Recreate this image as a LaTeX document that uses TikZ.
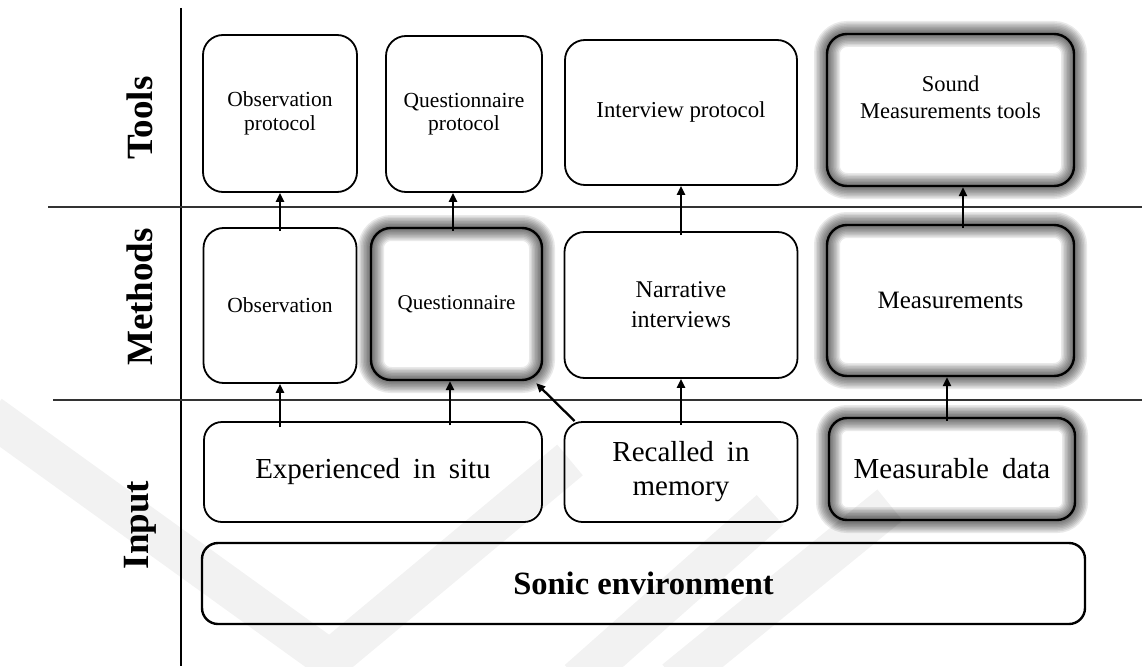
\documentclass[tikz,border=0pt]{standalone}
\usepackage{fontspec}
\setmainfont{Liberation Serif}
\usetikzlibrary{arrows.meta,calc}
\begin{document}
\begin{tikzpicture}[x=1pt,y=-1pt,
  box/.style={draw=black, line width=1.8pt, rounded corners=20pt, inner sep=0pt, align=center},
  glowbox/.style={box, line width=2.4pt,
    preaction={draw=black, draw opacity=0.085, line width=26pt},
    preaction={draw=black, draw opacity=0.085, line width=23pt},
    preaction={draw=black, draw opacity=0.085, line width=20pt},
    preaction={draw=black, draw opacity=0.085, line width=17pt},
    preaction={draw=black, draw opacity=0.085, line width=14pt},
    preaction={draw=black, draw opacity=0.085, line width=11pt},
    preaction={draw=black, draw opacity=0.085, line width=8pt},
    preaction={draw=black, draw opacity=0.085, line width=5pt}},
  arr/.style={line width=2.3pt, -{Triangle[length=9pt,width=8pt]}},
  sep/.style={line width=1.3pt, draw=black!80},
  rowlabel/.style={rotate=90, font=\fontsize{37}{40}\selectfont\bfseries},
  wm/.style={draw=black!5, line width=40pt},
  small/.style={font=\fontsize{21.5}{23.5}\selectfont},
  big/.style={font=\fontsize{29}{34}\selectfont}
]
\useasboundingbox (0,0) rectangle (1142,666);

% faint background chevrons
\begin{scope}
  \clip (0,0) rectangle (1142,666);
  \draw[wm] (-10,415) -- (330,660) -- (570,460);
  \draw[wm] (578,680) -- (770,510);
  \draw[wm] (675,680) -- (890,505);
\end{scope}

% frame lines
\draw[line width=1.5pt] (181,8) -- (181,666);
\draw[sep] (48,207) -- (1142,207);
\draw[sep] (53,400) -- (1142,400);

% row labels
\node[rowlabel] (ltools) at (140,118) {Tools};
\node[rowlabel] (lmethods) at (140,297) {Methods};
\node[rowlabel] (linput) at (140,525) {Input};

% tools
\node[box, small, minimum width=154pt, minimum height=157pt] (op) at (280,113.5) {Observation\\protocol};
\node[box, small, minimum width=156pt, minimum height=156pt] (qp) at (464,114) {Questionnaire\\protocol};
\node[box, font=\fontsize{22.8}{26}\selectfont, minimum width=232pt, minimum height=145pt] (ip) at (681,112.5) {Interview protocol};
\node[glowbox, minimum width=247pt, minimum height=152pt] (smt) at (950.5,110) {};
\node[align=center, font=\fontsize{22.5}{27}\selectfont] (smtt) at ($(smt.center)+(0,-13)$) {Sound\\Measurements tools};

% methods
\node[box, small, minimum width=153pt, minimum height=155pt] (obs) at (280,305.5) {Observation};
\node[glowbox, font=\fontsize{21}{23}\selectfont, minimum width=171pt, minimum height=152pt] (q) at (456.5,304) {Questionnaire};
\node[box, font=\fontsize{24}{30}\selectfont, minimum width=233pt, minimum height=146pt] (ni) at (681,305) {Narrative\\interviews};
\node[glowbox, font=\fontsize{25}{28}\selectfont, minimum width=247pt, minimum height=151pt] (meas) at (950.5,300.5) {Measurements};

% input
\node[box, big, rounded corners=18pt, minimum width=338pt, minimum height=100pt] (eis) at (373,472) {Experienced\hspace{0.2em} in\hspace{0.2em} situ};
\node[box, big, rounded corners=18pt, minimum width=233pt, minimum height=100pt] (rim) at (681,472) {Recalled\hspace{0.2em} in\\memory};
\node[glowbox, big, rounded corners=18pt, minimum width=246pt, minimum height=102pt] (md) at (952,469) {Measurable\hspace{0.2em} data};
\node[box, line width=2.4pt, rounded corners=16pt, font=\fontsize{32.5}{35}\selectfont\bfseries, minimum width=883pt, minimum height=81pt] (sonic) at (643.5,583.5) {Sonic environment};

% connectors
\draw[arr] ($(obs.north)+(0,4)$) -- (op.south);
\draw[arr] ($(q.north)+(-3.5,4)$) -- ($(qp.south)+(-11,0)$);
\draw[arr] ($(ni.north)+(0,4)$) -- (ip.south);
\draw[arr] ($(meas.north)+(12.5,4)$) -- ($(smt.south)+(12.5,0)$);
\draw[arr] ($(eis.north -| obs.south)+(0,6)$) -- (obs.south);
\draw[arr] ($(eis.north -| q.south)+(-6.5,4)$) -- ($(q.south)+(-6.5,0)$);
\draw[arr] ($(rim.north west)+(11,0)$) -- ($(q.south east)+(-7,2)$);
\draw[arr] ($(rim.north)+(0,4)$) -- (ni.south);
\draw[arr] ($(md.north)+(-5,4)$) -- ($(meas.south)+(-3.5,0)$);
\end{tikzpicture}
\end{document}
